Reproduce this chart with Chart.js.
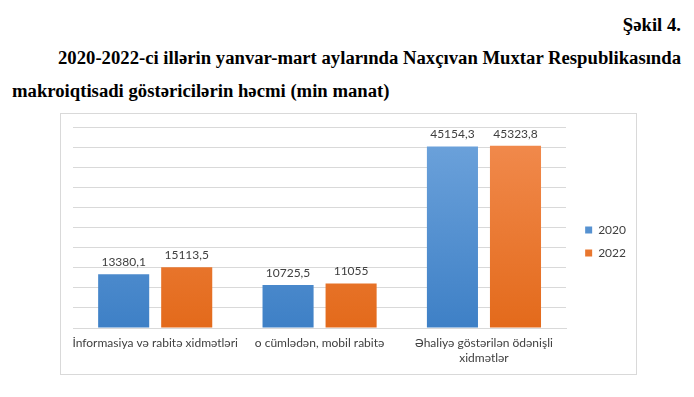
<!DOCTYPE html>
<html>
<head>
<meta charset="utf-8">
<script src="https://cdn.jsdelivr.net/npm/chart.js@4.4.0/dist/chart.umd.min.js"></script>
<style>
  body { margin: 0; background: #fff; width: 694px; height: 397px; position: relative; overflow: hidden; }
  .t { position: absolute; font-family: "Liberation Serif", serif; font-weight: bold; font-size: 18.7px; color: #000; white-space: nowrap; }
  #box { position: absolute; left: 60px; top: 113px; width: 575px; height: 260px; border: 1px solid #d9d9d9; }
</style>
</head>
<body>
<div class="t" style="right:13px; top:14px;">Şəkil 4.</div>
<div class="t" style="left:58px; top:47px; width:623px; text-align:justify; text-align-last:justify;">2020-2022-ci illərin yanvar-mart aylarında Naxçıvan Muxtar Respublikasında</div>
<div class="t" style="left:12px; top:80px;">makroiqtisadi göstəricilərin həcmi (min manat)</div>
<div id="box"><canvas id="chart" width="575" height="260"></canvas></div>
<script>
var categories = ['İnformasiya və rabitə xidmətləri', 'o cümlədən, mobil rabitə', ['Əhaliyə göstərilən ödənişli', 'xidmətlər']];
var values2020 = [13380.1, 10725.5, 45154.3];
var values2022 = [15113.5, 11055, 45323.8];
var seriesNames = ['2020', '2022'];

function grad(top, bottom) {
  return function (ctx) {
    var area = ctx.chart.chartArea;
    if (!area) return bottom;
    var g = ctx.chart.ctx.createLinearGradient(0, area.top, 0, area.bottom);
    g.addColorStop(0, top);
    g.addColorStop(1, bottom);
    return g;
  };
}

var valueLabels = {
  id: 'valueLabels',
  afterDatasetsDraw: function (chart) {
    var c = chart.ctx;
    c.save();
    c.font = '12px Lato';
    c.fillStyle = '#404040';
    c.textAlign = 'center';
    c.textBaseline = 'bottom';
    chart.data.datasets.forEach(function (ds, i) {
      chart.getDatasetMeta(i).data.forEach(function (bar, j) {
        c.fillText(String(ds.data[j]).replace('.', ','), bar.x, bar.y - 6);
      });
    });
    c.restore();
  }
};

var ctx = document.getElementById('chart').getContext('2d');
var chart = new Chart(ctx, {
  type: 'bar',
  data: {
    labels: categories,
    datasets: [{
      label: seriesNames[0],
      data: values2020,
      backgroundColor: grad('#6fa4dc', '#3e80c6')
    }, {
      label: seriesNames[1],
      data: values2022,
      backgroundColor: grad('#f28c50', '#e36a1b')
    }]
  },
  options: {
    responsive: false,
    animation: false,
    categoryPercentage: 0.767,
    barPercentage: 0.81,
    layout: { padding: { left: 12, top: 0, right: 0, bottom: 5 } },
    plugins: {
      legend: {
        position: 'right',
        labels: {
          boxWidth: 7,
          boxHeight: 7,
          padding: 11,
          color: '#404040',
          font: { family: 'Lato', size: 12 }
        }
      },
      tooltip: { enabled: false }
    },
    scales: {
      x: {
        grid: { display: false, drawTicks: false },
        border: { color: '#d9d9d9' },
        ticks: {
          padding: 7,
          color: '#404040',
          font: { family: 'Lato', size: 12, lineHeight: 1.3 },
          maxRotation: 0,
          autoSkip: false
        },
        afterFit: function (s) { s.height = 41; }
      },
      x2: {
        position: 'top',
        grid: { display: false, drawTicks: false },
        border: { display: false },
        ticks: { display: false },
        afterFit: function (s) { s.height = 13; }
      },
      y: {
        position: 'right',
        min: 0,
        max: 50000,
        ticks: { stepSize: 5000, display: false },
        grid: { color: '#d9d9d9', drawTicks: false },
        border: { display: false },
        afterFit: function (s) { s.width = 8; }
      }
    }
  },
  plugins: [valueLabels]
});
</script>
</body>
</html>
